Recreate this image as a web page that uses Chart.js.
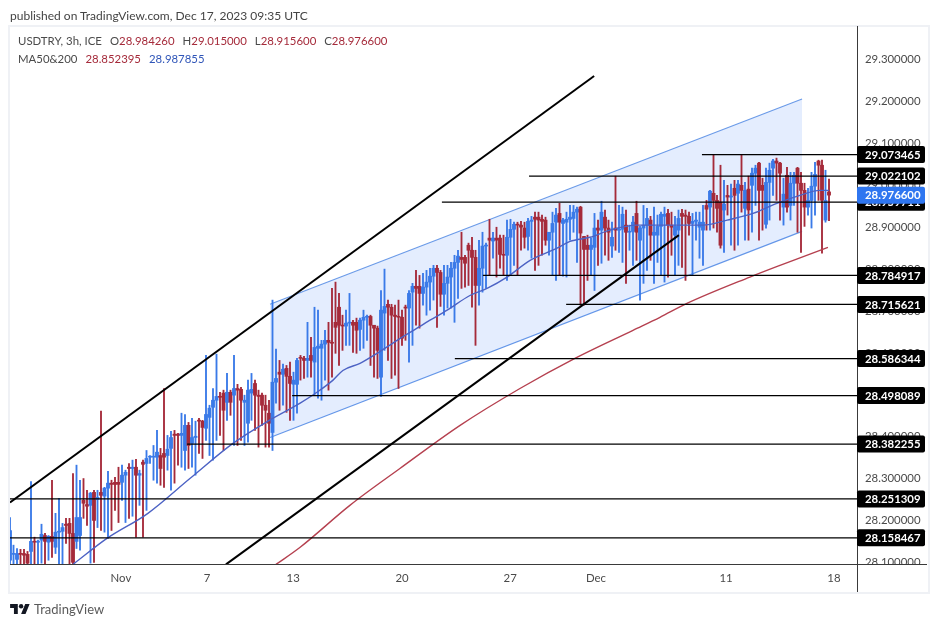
<!DOCTYPE html>
<html>
<head>
<meta charset="utf-8">
<title>USDTRY</title>
<script src="https://cdn.jsdelivr.net/npm/chart.js@4"></script>
<style>
  body { margin: 0; background: #fff; font-family: Lato, sans-serif; color: #4a4a4a; }
  #wrap { position: relative; width: 939px; height: 627px; overflow: hidden; }
  #frame { position: absolute; left: 8px; top: 25px; width: 918px; height: 565px; border: 2px solid #eff1f5; }
  canvas { position: absolute; left: 0; top: 0; }
  .txt { position: absolute; white-space: pre; font-size: 11.4px; }
  .txt span { margin-left: 8px; }
  .txt span b { font-weight: normal; color: #a52a3a; }
  .txt span.blue b { color: #2f55b8; }
  #logo { position: absolute; left: 10px; top: 603px; }
</style>
</head>
<body>
<div id="wrap">
  <div id="frame"></div>
  <canvas id="chart" width="939" height="627"></canvas>
  <div class="txt" style="left:10px;top:8px;font-size:12px;color:#444">published on TradingView.com, Dec 17, 2023 09:35 UTC</div>
  <div class="txt" style="left:18px;top:34px">USDTRY, 3h, ICE<span>O<b>28.984260</b></span><span>H<b>29.015000</b></span><span>L<b>28.915600</b></span><span>C<b>28.976600</b></span></div>
  <div class="txt" style="left:18px;top:52px">MA50&amp;200<span><b>28.852395</b></span><span class="blue"><b>28.987855</b></span></div>
  <svg id="logo" width="20" height="11" viewBox="0 0 36 20"><path fill="#131722" d="M14 20H7V9H0V2h14v18zM28 20h-8l7.5-18h8L28 20z"/><circle fill="#131722" cx="20" cy="6" r="4"/></svg>
  <div class="txt" style="left:34px;top:601px;font-size:13px;color:#5a5a5a">TradingView</div>
</div>
<script>
// Candles
const opens = [
  28.105,28.119,28.107,28.121,28.121,28.119,28.126,28.150,28.148,28.153,28.164,28.148,28.162,28.136,28.172,28.174,28.191,28.193,28.169,28.150,
  28.164,28.248,28.238,28.236,28.267,28.250,28.267,28.258,28.277,28.289,28.291,28.291,28.291,28.308,28.327,28.324,28.327,28.308,28.339,28.336,
  28.351,28.351,28.351,28.355,28.360,28.355,28.372,28.406,28.406,28.403,28.367,28.427,28.384,28.398,28.439,28.437,28.420,28.446,28.470,28.487,
  28.496,28.504,28.482,28.506,28.499,28.515,28.513,28.482,28.432,28.504,28.527,28.499,28.499,28.475,28.456,28.410,28.530,28.554,28.549,28.563,
  28.544,28.525,28.525,28.589,28.587,28.582,28.594,28.578,28.611,28.611,28.621,28.630,28.625,28.673,28.709,28.666,28.664,28.671,28.673,28.673,
  28.656,28.678,28.685,28.687,28.666,28.659,28.542,28.695,28.716,28.709,28.690,28.687,28.685,28.709,28.707,28.745,28.759,28.759,28.742,28.757,
  28.769,28.783,28.802,28.792,28.740,28.766,28.781,28.802,28.816,28.828,28.828,28.857,28.845,28.828,28.761,28.802,28.855,28.874,28.867,28.874,
  28.874,28.835,28.833,28.876,28.895,28.907,28.905,28.898,28.878,28.914,28.924,28.924,28.919,28.917,28.869,28.888,28.912,28.933,28.909,28.912,
  28.919,28.921,28.936,28.948,28.878,28.857,28.847,28.852,28.898,28.893,28.924,28.898,28.855,28.898,28.893,28.895,28.905,28.888,28.890,28.933,
  28.869,28.898,28.905,28.917,28.881,28.881,28.902,28.926,28.933,28.905,28.881,28.893,28.933,28.929,28.926,28.909,28.914,28.900,28.893,28.952,
  28.948,28.981,28.964,28.960,28.941,28.976,28.972,28.993,28.981,29.000,28.945,28.991,29.000,29.029,29.053,29.000,28.907,29.007,29.041,29.058,
  29.053,28.948,29.024,28.952,29.005,29.041,29.005,28.988,28.948,28.964,28.998,29.058,29.048,28.917,28.98426
];
const highs = [
  28.207,28.141,28.133,28.131,28.131,28.126,28.293,28.160,28.153,28.191,28.169,28.164,28.296,28.217,28.253,28.193,28.205,28.205,28.312,28.332,
  28.296,28.300,28.272,28.267,28.272,28.272,28.461,28.279,28.317,28.296,28.303,28.327,28.332,28.320,28.336,28.344,28.346,28.320,28.344,28.367,
  28.355,28.379,28.415,28.372,28.515,28.403,28.413,28.415,28.408,28.456,28.453,28.434,28.444,28.437,28.444,28.439,28.594,28.475,28.515,28.597,
  28.506,28.511,28.551,28.511,28.594,28.525,28.518,28.499,28.535,28.551,28.535,28.511,28.504,28.499,28.487,28.726,28.609,28.582,28.573,28.570,
  28.578,28.554,28.587,28.594,28.592,28.673,28.637,28.709,28.702,28.630,28.654,28.673,28.754,28.769,28.742,28.690,28.702,28.742,28.678,28.683,
  28.683,28.702,28.690,28.690,28.666,28.664,28.749,28.800,28.726,28.716,28.714,28.726,28.702,28.714,28.749,28.766,28.797,28.785,28.790,28.797,
  28.802,28.809,28.809,28.797,28.809,28.809,28.816,28.833,28.845,28.888,28.833,28.862,28.876,28.845,28.869,28.888,28.862,28.919,28.888,28.900,
  28.881,28.881,28.917,28.919,28.912,28.912,28.914,28.912,28.921,28.926,28.936,28.936,28.929,28.924,28.888,28.936,28.945,28.957,28.921,28.936,
  28.952,28.952,28.948,28.950,28.878,28.881,28.874,28.933,28.917,28.962,28.941,28.917,28.912,29.022,28.952,28.948,28.941,28.905,28.926,28.962,
  28.902,28.952,28.945,28.926,28.948,28.929,28.936,28.948,28.943,28.936,28.926,28.941,28.943,28.941,28.936,28.933,28.936,28.936,28.952,28.964,
  28.988,29.074,28.976,29.048,29.012,29.000,29.003,29.012,29.012,29.074,29.007,29.022,29.041,29.048,29.055,29.017,29.041,29.053,29.062,29.065,
  29.055,29.017,29.043,29.031,29.031,29.043,29.031,29.005,28.993,29.031,29.055,29.060,29.060,29.036,29.015
];
const lows = [
  28.081,28.093,28.093,28.093,28.093,28.090,28.090,28.093,28.093,28.098,28.093,28.105,28.112,28.121,28.093,28.093,28.145,28.090,28.090,28.133,
  28.129,28.205,28.188,28.098,28.100,28.183,28.176,28.172,28.157,28.176,28.224,28.195,28.248,28.195,28.205,28.210,28.160,28.236,28.160,28.224,
  28.336,28.296,28.289,28.284,28.279,28.320,28.272,28.289,28.332,28.327,28.320,28.324,28.327,28.308,28.360,28.348,28.391,28.355,28.344,28.391,
  28.403,28.367,28.439,28.451,28.379,28.379,28.391,28.379,28.387,28.439,28.415,28.375,28.427,28.375,28.375,28.367,28.480,28.463,28.475,28.458,
  28.439,28.439,28.456,28.535,28.539,28.542,28.542,28.499,28.492,28.487,28.535,28.511,28.542,28.599,28.570,28.606,28.618,28.618,28.601,28.599,
  28.606,28.611,28.630,28.570,28.542,28.539,28.496,28.606,28.582,28.539,28.547,28.515,28.618,28.630,28.578,28.618,28.666,28.659,28.714,28.690,
  28.702,28.726,28.661,28.711,28.690,28.707,28.707,28.673,28.730,28.754,28.757,28.761,28.709,28.618,28.714,28.745,28.754,28.785,28.826,28.781,
  28.802,28.785,28.773,28.785,28.809,28.785,28.845,28.850,28.845,28.826,28.797,28.809,28.833,28.857,28.833,28.785,28.773,28.785,28.783,28.781,
  28.869,28.888,28.816,28.714,28.714,28.773,28.785,28.749,28.809,28.814,28.833,28.821,28.828,28.845,28.840,28.816,28.766,28.845,28.809,28.821,
  28.726,28.766,28.797,28.821,28.766,28.816,28.785,28.769,28.781,28.833,28.785,28.809,28.804,28.773,28.881,28.785,28.869,28.826,28.809,28.893,
  28.893,28.898,28.888,28.850,28.840,28.929,28.857,28.845,28.857,28.936,28.869,28.869,28.888,28.952,28.869,28.893,28.898,28.917,28.976,28.964,
  28.917,28.905,28.936,28.917,28.952,28.888,28.840,28.902,28.929,28.898,28.929,28.964,28.838,28.912,28.9156
];
const closes = [
  28.176,28.121,28.121,28.119,28.117,28.098,28.150,28.148,28.150,28.167,28.150,28.162,28.150,28.172,28.174,28.183,28.188,28.169,28.100,28.207,
  28.207,28.241,28.234,28.265,28.200,28.255,28.260,28.277,28.289,28.286,28.286,28.286,28.308,28.315,28.324,28.327,28.308,28.312,28.334,28.348,
  28.353,28.353,28.363,28.324,28.351,28.370,28.398,28.403,28.403,28.408,28.427,28.379,28.398,28.401,28.437,28.422,28.453,28.468,28.487,28.496,
  28.494,28.463,28.506,28.482,28.515,28.511,28.487,28.487,28.511,28.513,28.499,28.496,28.475,28.463,28.432,28.530,28.539,28.549,28.561,28.544,
  28.527,28.535,28.582,28.587,28.582,28.587,28.582,28.613,28.616,28.621,28.630,28.625,28.623,28.661,28.666,28.664,28.671,28.673,28.666,28.654,
  28.678,28.685,28.687,28.666,28.659,28.606,28.702,28.711,28.709,28.690,28.687,28.685,28.635,28.707,28.742,28.759,28.754,28.742,28.757,28.769,
  28.783,28.802,28.792,28.740,28.766,28.781,28.802,28.816,28.831,28.823,28.814,28.845,28.828,28.761,28.802,28.855,28.857,28.869,28.874,28.869,
  28.835,28.833,28.876,28.895,28.907,28.905,28.900,28.876,28.914,28.917,28.919,28.917,28.914,28.869,28.888,28.909,28.929,28.912,28.917,28.919,
  28.924,28.936,28.943,28.886,28.847,28.847,28.857,28.898,28.893,28.936,28.898,28.888,28.876,28.893,28.895,28.931,28.888,28.890,28.912,28.888,
  28.898,28.905,28.921,28.881,28.888,28.902,28.931,28.931,28.905,28.900,28.902,28.921,28.926,28.926,28.909,28.914,28.917,28.912,28.912,28.943,
  28.986,28.964,28.945,28.857,28.955,28.972,28.974,28.976,29.003,28.988,28.988,28.941,29.029,29.041,28.988,28.988,29.007,29.036,29.058,29.053,
  29.029,28.979,28.948,29.005,29.024,29.005,28.988,28.948,28.964,28.998,29.026,29.048,28.964,28.964,28.9766
];

// Moving averages: candle position and value
const ma50X = [18,27.7,39.4,51.4,63.7,73.7,82.9,87.7,92.3,95.1,100,104.9,110.6,116.3,120,124.9,131.4,136.3,142,148.6,156.3,160,165.7,171.4,179.1,188.6,198,204.9,212.3,219.1,225.7,231.4,234];
const ma50Y = [28.095,28.157,28.217,28.300,28.384,28.437,28.480,28.506,28.535,28.558,28.575,28.599,28.630,28.659,28.678,28.702,28.737,28.754,28.781,28.821,28.850,28.866,28.876,28.893,28.905,28.905,28.905,28.917,28.933,28.957,28.976,28.988,28.988];
const ma200X = [76,82.9,97.1,111.4,128.6,145.7,161.4,178,185.7,193.4,211.4,220,233.7];
const ma200Y = [28.095,28.136,28.236,28.324,28.427,28.515,28.587,28.654,28.685,28.718,28.781,28.809,28.852];

// Drawn lines: [start, end] candle position and price
const upperTrendX = [0, 166.9];
const upperTrendY = [28.243, 29.261];
const lowerTrendX = [61.7, 191.1];
const lowerTrendY = [28.095, 28.881];
const channelX = [74.3, 226.3];
const channelTop = [28.716, 29.206];
const channelBottom = [28.398, 28.890];

// Horizontal levels with their price tag
const levelPrices = [29.073465, 29.022102, 28.959711, 28.784917, 28.715621, 28.586344, 28.498089, 28.382255, 28.251309, 28.158467];
const levelStarts = [197.7, 148.3, 123.4, 135.1, 158.9, 127.1, 80.6, 50.6, 0, 0];
const lastPrice = 28.9766;

const xTickPos = [31.7, 56.3, 80.9, 112, 142.9, 167.4, 204.6, 235.4];
const xTickLabels = ['Nov', '7', '13', '20', '27', 'Dec', '11', '18'];
const xMax = 242;

const BLUE = '#3a7ae8';
const RED = '#a52a3a';
const candleColors = closes.map((c, i) => c >= opens[i] ? BLUE : RED);

function xyLine(xs, ys) {
  return xs.map((x, i) => ({ x: x, y: ys[i] }));
}

function lineSet(data, color, width, order) {
  return { type: 'line', data: data, borderColor: color, borderWidth: width, pointRadius: 0, tension: 0, fill: false, order: order };
}

function maSet(data, color) {
  return Object.assign(lineSet(data, color, 1.4, 3), { cubicInterpolationMode: 'monotone' });
}

// Price tags, axis lines and the cut at the bottom of the price scale
const axisOverlay = {
  id: 'axisOverlay',
  afterDraw(chart) {
    const ctx = chart.ctx;
    const y = chart.scales.y;
    const area = chart.chartArea;
    ctx.save();
    ctx.fillStyle = '#fff';
    ctx.fillRect(area.right + 1, area.bottom, 70, 26);
    ctx.fillStyle = '#3a3a3a';
    ctx.fillRect(area.left, area.bottom, 917, 1);
    ctx.fillRect(area.right, area.top - 1, 1, 566);
    ctx.font = 'bold 11.4px Lato, sans-serif';
    ctx.textBaseline = 'middle';

    function tag(price, color) {
      const py = y.getPixelForValue(price);
      ctx.fillStyle = color;
      ctx.beginPath();
      ctx.roundRect(area.right, py - 8.5, 68, 17, 2);
      ctx.fill();
      ctx.fillStyle = '#fff';
      ctx.fillText(price.toFixed(6), area.right + 8, py + 0.5);
    }
    levelPrices.forEach(p => tag(p, '#000'));
    tag(lastPrice, '#2f76f0');
    ctx.restore();
  }
};

const datasets = [
  { label: 'wicks', type: 'bar', data: closes.map((c, i) => ({ x: i, y: [lows[i], highs[i]] })), backgroundColor: candleColors, barThickness: 1.2, order: 6 },
  { label: 'bodies', type: 'bar', data: closes.map((c, i) => ({ x: i, y: [opens[i], c] })), backgroundColor: candleColors, barThickness: 3.2, minBarLength: 1, order: 5 },
  maSet(xyLine(ma50X, ma50Y), '#4c62c4'),
  maSet(xyLine(ma200X, ma200Y), '#b5404f'),
  lineSet(xyLine(upperTrendX, upperTrendY), '#000', 2, 1),
  lineSet(xyLine(lowerTrendX, lowerTrendY), '#000', 2, 1),
  Object.assign(lineSet(xyLine(channelX, channelTop), '#6b9be8', 1.2, 8), { fill: '+1', backgroundColor: 'rgba(33,110,243,0.12)' }),
  lineSet(xyLine(channelX, channelBottom), '#6b9be8', 1.2, 8)
];

levelPrices.forEach((p, i) => {
  datasets.push(lineSet(xyLine([levelStarts[i], xMax], [p, p]), '#000', 1.2, 2));
});

new Chart(document.getElementById('chart'), {
  type: 'bar',
  data: { datasets: datasets },
  plugins: [axisOverlay],
  options: {
    responsive: false,
    animation: false,
    layout: { padding: { left: 10, top: 27, right: 10, bottom: 35 } },
    plugins: { legend: { display: false }, tooltip: { enabled: false } },
    datasets: { bar: { grouped: false } },
    scales: {
      x: {
        type: 'linear',
        min: 0,
        max: xMax,
        offset: false,
        grid: { display: false, drawTicks: false },
        border: { display: false },
        afterFit: s => { s.height = 28; },
        afterBuildTicks: s => { s.ticks = xTickPos.map(v => ({ value: v })); },
        ticks: {
          autoSkip: false,
          maxRotation: 0,
          padding: 7,
          color: '#4a4a4a',
          font: { family: 'Lato, sans-serif', size: 11.4 },
          callback: (v, i) => xTickLabels[i]
        }
      },
      y: {
        position: 'right',
        min: 28.096,
        max: 29.378,
        grid: { display: false, drawTicks: false },
        border: { display: false },
        afterFit: s => { s.width = 72; },
        ticks: {
          stepSize: 0.1,
          includeBounds: false,
          padding: 8,
          color: '#4a4a4a',
          font: { family: 'Lato, sans-serif', size: 11.4 },
          callback: v => v.toFixed(6)
        }
      }
    }
  }
});
</script>
</body>
</html>
